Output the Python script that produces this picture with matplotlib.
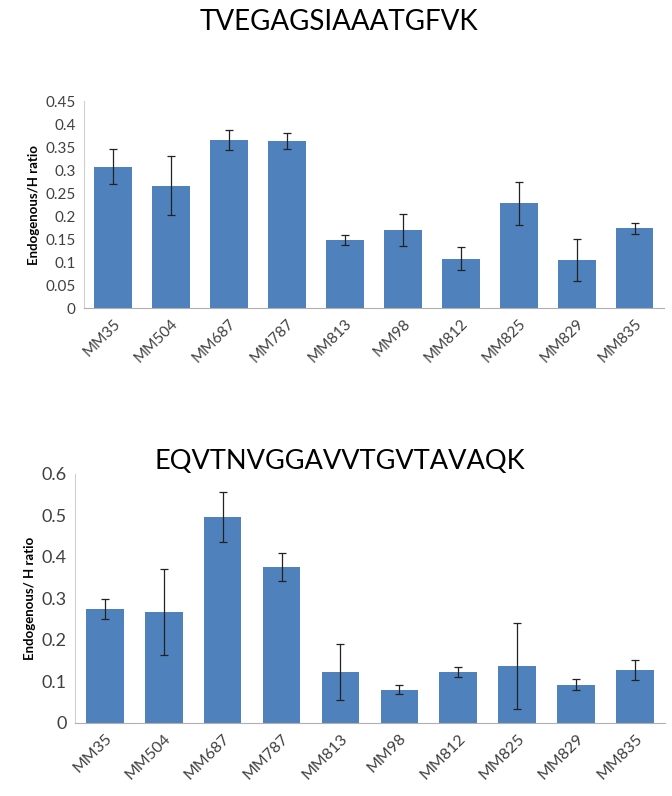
import matplotlib
matplotlib.use('Agg')
import matplotlib.pyplot as plt
import numpy as np

samples = ['MM35', 'MM504', 'MM687', 'MM787', 'MM813', 'MM98', 'MM812', 'MM825', 'MM829', 'MM835']

# TVEGAGSIAAATGFVK
top_vals = [0.307, 0.266, 0.366, 0.363, 0.148, 0.169, 0.107, 0.228, 0.104, 0.173]
top_err = [0.038, 0.064, 0.022, 0.018, 0.010, 0.035, 0.025, 0.047, 0.046, 0.013]

# EQVTNVGGAVVTGVTAVAQK
bot_vals = [0.273, 0.267, 0.496, 0.376, 0.123, 0.080, 0.123, 0.136, 0.092, 0.128]
bot_err = [0.024, 0.104, 0.060, 0.034, 0.067, 0.010, 0.012, 0.104, 0.013, 0.024]

plt.rcParams['font.family'] = ['Lato', 'DejaVu Sans']
bar_color = '#4F81BD'

fig = plt.figure(figsize=(6.72, 7.96), dpi=100)
ax1 = fig.add_axes([0.125, 0.613, 0.863, 0.260])
ax2 = fig.add_axes([0.112, 0.092, 0.877, 0.313])


def draw(ax, vals, err, ymax, step, ylabel, yfs, xfs):
    x = np.arange(len(samples))
    ax.bar(x, vals, width=0.64, color=bar_color, yerr=err,
           error_kw=dict(ecolor='#222222', elinewidth=0.9, capsize=3, capthick=0.9))
    ax.set_xlim(-0.5, len(samples) - 0.5)
    ax.set_ylim(0, ymax)
    ticks = np.arange(0, ymax + step / 2, step)
    ax.set_yticks(ticks)
    ax.set_yticklabels(['%g' % round(t, 2) for t in ticks], fontsize=yfs, color='#404040')
    ax.set_xticks(x)
    ax.set_xticklabels(samples, rotation=45, ha='right', rotation_mode='anchor',
                       fontsize=xfs, color='#404040')
    ax.tick_params(length=0, pad=6)
    for s in ['top', 'right']:
        ax.spines[s].set_visible(False)
    ax.spines['left'].set_color('#d0d0d0')
    ax.spines['bottom'].set_color('#b0b0b0')
    ax.set_ylabel(ylabel, fontsize=9.5, fontweight='bold', labelpad=4)


draw(ax1, top_vals, top_err, 0.45, 0.05, 'Endogenous/H ratio', 11, 11)
draw(ax2, bot_vals, bot_err, 0.6, 0.1, 'Endogenous/ H ratio', 13, 11.5)

fig.text(0.505, 0.972, 'TVEGAGSIAAATGFVK', ha='center', va='center', fontsize=20)
fig.text(0.505, 0.42, 'EQVTNVGGAVVTGVTAVAQK', ha='center', va='center', fontsize=19.5)

fig.savefig('out.png', dpi=100)
